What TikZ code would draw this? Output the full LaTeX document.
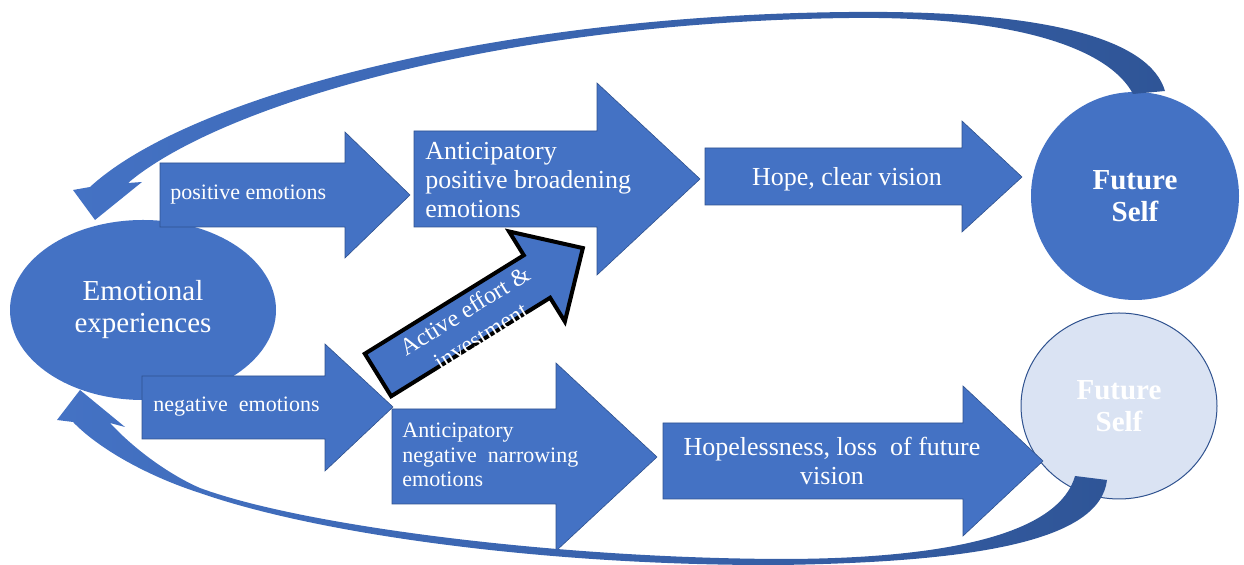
\documentclass[tikz,border=0pt]{standalone}
\usepackage{fontspec}
\setmainfont{Liberation Serif}
\usetikzlibrary{shapes.geometric}
\definecolor{mainblue}{HTML}{4472C4}
\definecolor{darkblue}{HTML}{2F5597}
\definecolor{edgeblue}{HTML}{2F528F}
\definecolor{paleblue}{HTML}{DAE3F3}
\begin{document}
\begin{tikzpicture}[x=0.5pt,y=-0.5pt,
  blk/.style={fill=mainblue, draw=edgeblue, line width=0.3pt},
  lbl/.style={text=white, inner sep=0pt},
  band/.style={left color=mainblue, right color=darkblue},
  fsmall/.style={font=\fontsize{11}{12.25}\selectfont},
  fmid/.style={font=\fontsize{13}{14.5}\selectfont},
  fbig/.style={font=\fontsize{14.5}{16}\selectfont},
]
\useasboundingbox (0,0) rectangle (1244,565);

% main shapes
\node[ellipse, fill=mainblue, minimum width=133pt, minimum height=90pt, inner sep=0pt,
      text=white, align=center, fbig] (emo) at (143,310) {Emotional\\experiences};
\node[circle, fill=mainblue, minimum size=104pt, inner sep=0pt,
      text=white, align=center, font=\fontsize{14.5}{16}\selectfont\bfseries] (fs1) at (1135,196) {Future\\Self};
\node[ellipse, fill=paleblue, draw=edgeblue, line width=0.5pt, minimum width=98pt, minimum height=93pt, inner sep=0pt,
      text=white, align=center, font=\fontsize{14.5}{16}\selectfont\bfseries] (fs2) at (1119,406) {Future\\Self};

% block arrows (upper row)
\path[blk] (160,163) -- (345,163) -- (345,132) -- (410,195) -- (345,258) -- (345,227) -- (160,227) -- cycle;
\path[blk] (414,131) -- (597,131) -- (597,83) -- (700,179) -- (597,275) -- (597,227) -- (414,227) -- cycle;
\path[blk] (705,148) -- (962,148) -- (962,121) -- (1022,177) -- (962,232) -- (962,205) -- (705,205) -- cycle;
% block arrows (lower row)
\path[blk] (142,376) -- (325,376) -- (325,344) -- (393,407) -- (325,471) -- (325,439) -- (142,439) -- cycle;
\path[blk] (392,409) -- (556,409) -- (556,363) -- (657,457) -- (556,551) -- (556,504) -- (392,504) -- cycle;
\path[blk] (663,423) -- (963,423) -- (963,386) -- (1043,461) -- (963,536) -- (963,499) -- (663,499) -- cycle;

% curved return arrows
\shade[band]
 (1165,91) .. controls (1150,40) and (1050,10) .. (850,12)
 .. controls (500,15) and (190,95) .. (90,187)
 -- (73,190) -- (95,220) -- (142,182) -- (128,183)
 .. controls (220,105) and (500,22) .. (850,18)
 .. controls (1020,16) and (1110,50) .. (1133,94) -- cycle;
\shade[band]
 (1107,480) .. controls (1100,540) and (980,562) .. (780,565)
 .. controls (550,566) and (320,535) .. (200,493)
 .. controls (150,477) and (100,450) .. (73,422)
 -- (57,420) -- (80,390) -- (125,427) -- (110,423)
 .. controls (135,450) and (170,475) .. (200,488)
 .. controls (300,525) and (550,558) .. (780,559)
 .. controls (960,559) and (1060,530) .. (1075,476) -- cycle;

% active effort arrow
\begin{scope}[shift={(378,375)}, rotate=31.78]
\filldraw[fill=mainblue, draw=black, line width=2pt, line join=miter]
  (0,-25) -- (187,-25) -- (187,-53) -- (241,0) -- (187,53) -- (187,25) -- (0,25) -- cycle;
\node[lbl, rotate=31.78, align=center, font=\fontsize{12}{15}\selectfont] (act) at (108,6) {Active effort \&\\investment};
\end{scope}

% labels
\node[lbl, anchor=west, fsmall] (pos) at (170,195) {positive emotions};
\node[lbl, anchor=west, align=left, fmid] (apb) at (425,180) {Anticipatory\\positive broadening\\emotions};
\node[lbl, fmid] (hope) at (847,179) {Hope, clear vision};
\node[lbl, anchor=west, fsmall] (neg) at (153,407) {negative\ \ emotions};
\node[lbl, anchor=west, align=left, fsmall] (anr) at (402,455) {Anticipatory\\negative\ \ narrowing\\emotions};
\node[lbl, align=center, fmid] (hl) at (832,461) {Hopelessness, loss\ \ of future\\vision};
\end{tikzpicture}
\end{document}
